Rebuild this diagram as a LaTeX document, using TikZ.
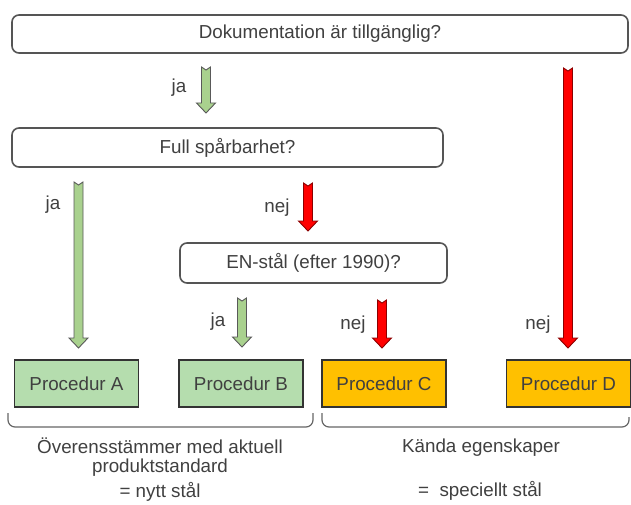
\documentclass[tikz,border=0pt]{standalone}
\usepackage{fontspec}
\setmainfont{Liberation Sans}
\usetikzlibrary{calc}
\definecolor{textgra}{HTML}{404040}
\definecolor{kantgra}{HTML}{555555}
\definecolor{procgron}{HTML}{B5DDAE}
\definecolor{pilgron}{HTML}{A9D18E}
\definecolor{procgul}{HTML}{FFC000}
\definecolor{pilrod}{HTML}{FF0000}
\tikzset{
	fraga/.style={draw=kantgra, line width=1.6pt, rounded corners=7pt, fill=white, inner sep=0pt},
	proc/.style={draw=black!80, line width=1.6pt, minimum width=124pt, minimum height=47pt, inner sep=0pt},
	blockpil/.style={line width=0.9pt, to path={let \p1=(\tikztostart), \p2=(\tikztotarget) in
		(\x1-4.5pt,\y1) -- (\x1,\y1-3pt) -- (\x1+4.5pt,\y1) -- (\x1+4.5pt,\y2+10pt) -- (\x1+9.5pt,\y2+10pt)
		-- (\x2,\y2) -- (\x1-9.5pt,\y2+10pt) -- (\x1-4.5pt,\y2+10pt) -- cycle}},
	japil/.style={blockpil, fill=pilgron, draw=black!65},
	nejpil/.style={blockpil, fill=pilrod, draw=red!55!black},
	klammer/.style={draw=black!60, line width=1.2pt, rounded corners=7pt},
}
\begin{document}
\begin{tikzpicture}[x=1pt, y=-1pt, every node/.style={font=\fontsize{18.8}{19}\selectfont, text=textgra}]
	\useasboundingbox (0,0) rectangle (631,505);
	% fragor
	\node[fraga, minimum width=616pt, minimum height=38pt] (dok) at (320,34) {Dokumentation är tillgänglig?};
	\node[fraga, minimum width=431pt, minimum height=39pt] (full) at (227.5,147.5) {Full spårbarhet?};
	\node[fraga, minimum width=267pt, minimum height=40pt] (en) at (313.5,263) {EN-stål (efter 1990)?};
	% procedurer
	\node[proc, fill=procgron] (procA) at (76.5,383.5) {Procedur A};
	\node[proc, fill=procgron] (procB) at (241,383.5) {Procedur B};
	\node[proc, fill=procgul] (procC) at (384,383.5) {Procedur C};
	\node[proc, fill=procgul] (procD) at (568.5,383.5) {Procedur D};
	% pilar
	\coordinate (ja1s) at (206,67);   \coordinate (ja1e) at (206,113);
	\coordinate (ja2s) at (78.5,182); \coordinate (ja2e) at (78.5,348);
	\coordinate (ja3s) at (242,298);  \coordinate (ja3e) at (242,347);
	\coordinate (nej1s) at (308,183); \coordinate (nej1e) at (308,231);
	\coordinate (nej2s) at (382,300); \coordinate (nej2e) at (382,348);
	\coordinate (nej3s) at (568,68);  \coordinate (nej3e) at (568,348);
	\draw[japil] (ja1s) to (ja1e);
	\draw[japil] (ja2s) to (ja2e);
	\draw[japil] (ja3s) to (ja3e);
	\draw[nejpil] (nej1s) to (nej1e);
	\draw[nejpil] (nej2s) to (nej2e);
	\draw[nejpil] (nej3s) to (nej3e);
	\node (ja1) at (179,88) {ja};
	\node (ja2) at (53,205) {ja};
	\node (ja3) at (218,322) {ja};
	\node (nej1) at (277,208) {nej};
	\node (nej2) at (353,325) {nej};
	\node (nej3) at (538,325) {nej};
	% klamrar
	\draw[klammer] (8,413) -- (8,427) -- (313,427) -- (313,413);
	\draw[klammer] (322,413) -- (322,427) -- (629,427) -- (629,417);
	\node[align=center] (overens) at (160,457) {Överensstämmer med aktuell\\produktstandard};
	\node (nytt) at (160,492) {= nytt stål};
	\node (kanda) at (481,448) {Kända egenskaper};
	\node (speciellt) at (480,491) {= \ speciellt stål};
\end{tikzpicture}
\end{document}
